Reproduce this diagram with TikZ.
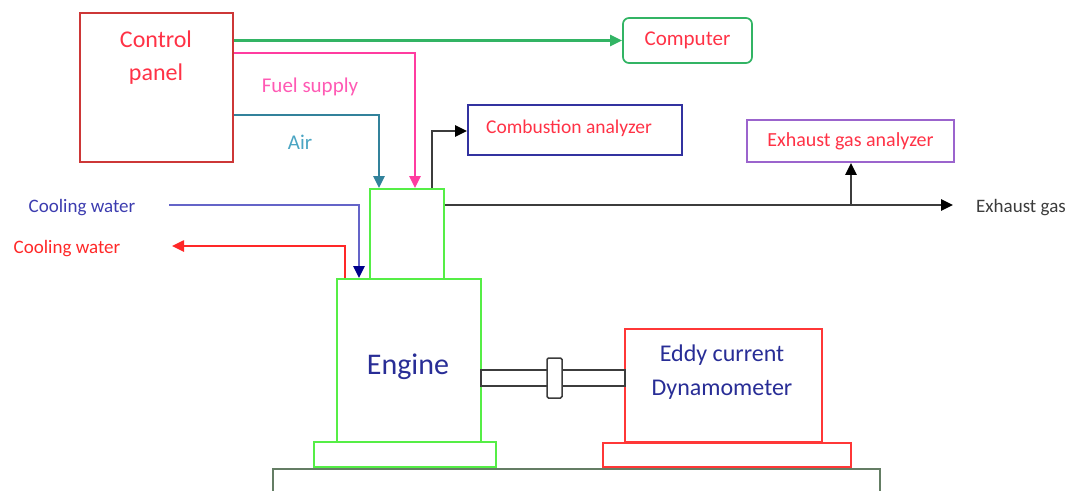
\documentclass[tikz,border=0pt]{standalone}
\usepackage{fontspec}
\setmainfont{Carlito}
\usetikzlibrary{arrows.meta,calc}
\definecolor{cpred}{RGB}{205,55,55}
\definecolor{txtred}{RGB}{255,50,70}
\definecolor{compgreen}{RGB}{50,180,100}
\definecolor{pinkc}{RGB}{255,60,160}
\definecolor{pinktxt}{RGB}{255,90,180}
\definecolor{tealc}{RGB}{50,130,155}
\definecolor{tealtxt}{RGB}{75,165,195}
\definecolor{lavblue}{RGB}{100,100,200}
\definecolor{navyc}{RGB}{0,0,140}
\definecolor{bluetxt}{RGB}{60,60,175}
\definecolor{redc}{RGB}{255,40,40}
\definecolor{cabord}{RGB}{50,50,160}
\definecolor{purplec}{RGB}{155,100,205}
\definecolor{limec}{RGB}{85,238,70}
\definecolor{dynred}{RGB}{255,55,55}
\definecolor{darkgray}{RGB}{60,60,60}
\definecolor{navytxt}{RGB}{40,45,150}
\definecolor{groundc}{RGB}{100,125,100}
\tikzset{
  box/.style={draw, rectangle, inner sep=0pt, line width=1.7pt},
  conn/.style={line width=2.5pt},
  lbl/.style={inner sep=0pt, font=\fontsize{19}{22}\selectfont}
}
\begin{document}
\begin{tikzpicture}[x=1pt,y=-1pt]
\useasboundingbox (0,0) rectangle (1075,490);
% boxes
\node[box, draw=cpred, minimum width=153pt, minimum height=149pt] (cp) at (156.5,87.5) {};
\node[inner sep=0pt, align=center, text=txtred, font=\fontsize{24}{33}\selectfont] (cptext) at (156,58) {Control\\panel};
\node[box, draw=compgreen, rounded corners=6pt, minimum width=129pt, minimum height=45pt, text=txtred, font=\fontsize{21}{24}\selectfont] (comp) at (687.5,40.5) {Computer};
\node[box, draw=limec, minimum width=74pt, minimum height=90pt] (head) at (407,234) {};
\node[box, draw=cabord, minimum width=214pt, minimum height=50pt] (ca) at (575,130) {};
\node[lbl, text=txtred, font=\fontsize{19.5}{22}\selectfont] (catext) at (569,128) {Combustion analyzer};
\node[box, draw=purplec, minimum width=207pt, minimum height=42pt, text=txtred, font=\fontsize{20}{22}\selectfont] (ega) at (850.5,141) {Exhaust gas analyzer};
\node[box, draw=limec, minimum width=144pt, minimum height=163pt] (eng) at (409,360.5) {};
\node[inner sep=0pt, text=navytxt, font=\fontsize{30}{34}\selectfont] (engtext) at (408,367) {Engine};
\node[box, draw=limec, minimum width=182pt, minimum height=25pt] (ebase) at (405,454.5) {};
\node[box, draw=dynred, minimum width=197pt, minimum height=113pt] (dyn) at (723.5,385.5) {};
\node[inner sep=0pt, align=center, text=navytxt, font=\fontsize{24}{34}\selectfont] (dyntext) at (722,372) {Eddy current\\Dynamometer};
\node[box, draw=dynred, minimum width=248pt, minimum height=24pt] (dbase) at (727,455) {};
\node[box, draw=groundc, minimum width=607pt, minimum height=60pt] (ground) at (576.5,499) {};
% shaft and coupling
\node[draw=darkgray, line width=1.5pt, rectangle, inner sep=0pt, minimum width=144pt, minimum height=16pt] (shaft) at (553,378) {};
\node[draw=darkgray, fill=white, line width=1.5pt, rectangle, rounded corners=1.5pt, inner sep=0pt, minimum width=15pt, minimum height=40pt] (coup) at (554.5,378) {};
% labels
\node[lbl, text=pinktxt, font=\fontsize{21}{24}\selectfont] (fuel) at (310,87) {Fuel supply};
\node[lbl, text=tealtxt, font=\fontsize{21}{24}\selectfont] (air) at (300,142) {Air};
\node[lbl, text=bluetxt] (cwin) at (82,208) {Cooling water};
\node[lbl, text=redc] (cwout) at (67,249) {Cooling water};
\node[lbl, text=darkgray, anchor=west] (exgas) at (976,208) {Exhaust gas};
% coordinates
\coordinate (ypink) at (0,53);
\coordinate (yair) at (0,115);
\coordinate (xpink) at (415,0);
\coordinate (xair) at (379,0);
\coordinate (xblk) at (432,0);
\coordinate (yblk) at (0,131);
\coordinate (yex) at (0,205);
\coordinate (exend) at (953,205);
\coordinate (xega) at (851,0);
\coordinate (cwinstart) at (169,205);
\coordinate (xcwin) at (359,0);
\coordinate (xcwout) at (345,0);
\coordinate (cwoutend) at (172,246);
% connectors
\draw[conn, draw=compgreen, -{Triangle[length=12pt,width=11pt,color=compgreen]}] (cp.east |- comp.west) -- (comp.west);
\draw[conn, draw=pinkc, -{Triangle[length=12pt,width=11pt,color=pinkc]}] (cp.east |- ypink) -| (xpink |- head.north);
\draw[conn, draw=tealc, -{Triangle[length=12pt,width=11pt,color=tealc]}] (cp.east |- yair) -| (xair |- head.north);
\draw[conn, draw=darkgray, -{Triangle[length=12pt,width=11pt,color=black]}] (xblk |- head.north) |- (ca.west |- yblk);
\draw[conn, draw=darkgray, -{Triangle[length=12pt,width=11pt,color=black]}] (head.east |- yex) -- (exend);
\draw[conn, draw=darkgray, -{Triangle[length=12pt,width=11pt,color=black]}] (xega |- yex) -- (xega |- ega.south);
\draw[conn, draw=lavblue, -{Triangle[length=12pt,width=11pt,color=navyc]}] (cwinstart) -| (xcwin |- eng.north);
\draw[conn, draw=redc, -{Triangle[length=12pt,width=11pt,color=redc]}] (xcwout |- eng.north) |- (cwoutend);
\end{tikzpicture}
\end{document}
